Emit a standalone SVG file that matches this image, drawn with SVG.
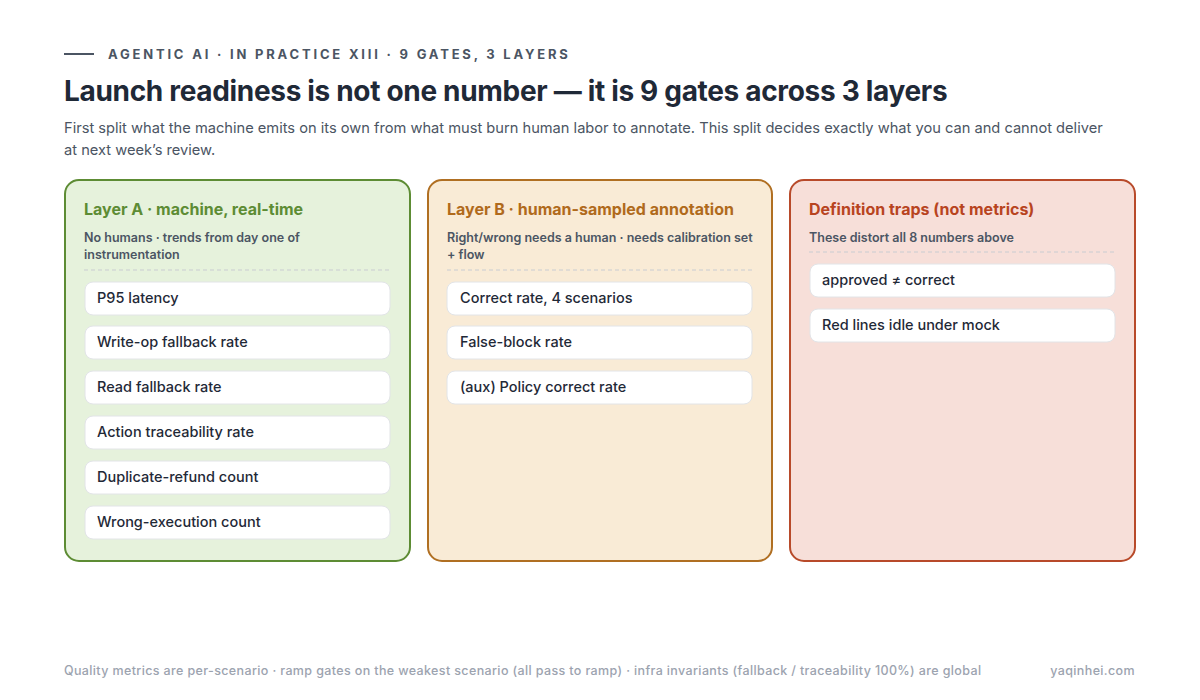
<svg xmlns="http://www.w3.org/2000/svg" width="1200" height="700" viewBox="0 0 1200 700">
<style>
text{font-family:Inter,"Noto Sans","Liberation Sans",sans-serif}
.kicker{font-size:13px;font-weight:700;fill:#4b5563;letter-spacing:2.8px}
.title{font-size:28px;font-weight:700;fill:#1f2937;letter-spacing:-0.32px}
.sub{font-size:14.65px;fill:#4b5563}
.ph{font-size:16px;font-weight:700}
.ps{font-size:12.5px;font-weight:600;fill:#4b5563}
.item rect{fill:#fff;stroke:#e2e4e7;stroke-width:1}
.item text{font-size:14.5px;fill:#1f2937;font-weight:500}
.dash{stroke:#c9ccd1;stroke-width:1;stroke-dasharray:4 3}
.foot{font-size:12.5px;fill:#9ca3af;font-weight:500;letter-spacing:0.37px}
</style>
<rect width="1200" height="700" fill="#fff"/>
<line x1="64" y1="54" x2="94" y2="54" stroke="#4b5563" stroke-width="2"/>
<text class="kicker" x="108" y="59">AGENTIC AI · IN PRACTICE XIII · 9 GATES, 3 LAYERS</text>
<text class="title" x="64" y="101">Launch readiness is not one number — it is 9 gates across 3 layers</text>
<text class="sub" x="64" y="133">First split what the machine emits on its own from what must burn human labor to annotate. This split decides exactly what you can and cannot deliver</text>
<text class="sub" x="64" y="155">at next week’s review.</text>

<g id="layerA">
<rect x="65" y="180" width="345" height="381" rx="14" fill="#e6f2dc" stroke="#5d8c34" stroke-width="2"/>
<text class="ph" x="84" y="215" fill="#5d8c34">Layer A · machine, real-time</text>
<text class="ps" x="84" y="242">No humans · trends from day one of</text>
<text class="ps" x="84" y="259">instrumentation</text>
<line class="dash" x1="84" y1="270" x2="391" y2="270"/>
<g class="item"><rect x="85" y="282" width="305" height="33" rx="8"/><text x="97" y="303">P95 latency</text></g>
<g class="item"><rect x="85" y="326" width="305" height="33" rx="8"/><text x="97" y="347">Write-op fallback rate</text></g>
<g class="item"><rect x="85" y="371" width="305" height="33" rx="8"/><text x="97" y="392">Read fallback rate</text></g>
<g class="item"><rect x="85" y="416" width="305" height="33" rx="8"/><text x="97" y="437">Action traceability rate</text></g>
<g class="item"><rect x="85" y="461" width="305" height="33" rx="8"/><text x="97" y="482">Duplicate-refund count</text></g>
<g class="item"><rect x="85" y="506" width="305" height="33" rx="8"/><text x="97" y="527">Wrong-execution count</text></g>
</g>

<g id="layerB">
<rect x="428" y="180" width="344" height="381" rx="14" fill="#f9ebd6" stroke="#b06f22" stroke-width="2"/>
<text class="ph" x="447" y="215" fill="#b06a1c">Layer B · human-sampled annotation</text>
<text class="ps" x="447" y="242">Right/wrong needs a human · needs calibration set</text>
<text class="ps" x="447" y="259">+ flow</text>
<line class="dash" x1="447" y1="270" x2="753" y2="270"/>
<g class="item"><rect x="447" y="282" width="305" height="33" rx="8"/><text x="460" y="303">Correct rate, 4 scenarios</text></g>
<g class="item"><rect x="447" y="326" width="305" height="33" rx="8"/><text x="460" y="347">False-block rate</text></g>
<g class="item"><rect x="447" y="371" width="305" height="33" rx="8"/><text x="460" y="392">(aux) Policy correct rate</text></g>
</g>

<g id="traps">
<rect x="790" y="180" width="345" height="381" rx="14" fill="#f7dfd9" stroke="#b84a2a" stroke-width="2"/>
<text class="ph" x="809" y="215" fill="#b8441f">Definition traps (not metrics)</text>
<text class="ps" x="809" y="242">These distort all 8 numbers above</text>
<line class="dash" x1="809" y1="252" x2="1116" y2="252"/>
<g class="item"><rect x="810" y="264" width="305" height="33" rx="8"/><text x="822" y="285">approved ≠ correct</text></g>
<g class="item"><rect x="810" y="309" width="305" height="33" rx="8"/><text x="822" y="330">Red lines idle under mock</text></g>
</g>

<g id="connectors"></g>

<text class="foot" x="64" y="675">Quality metrics are per-scenario · ramp gates on the weakest scenario (all pass to ramp) · infra invariants (fallback / traceability 100%) are global</text>
<text class="foot" x="1135" y="675" text-anchor="end">yaqinhei.com</text>
</svg>
